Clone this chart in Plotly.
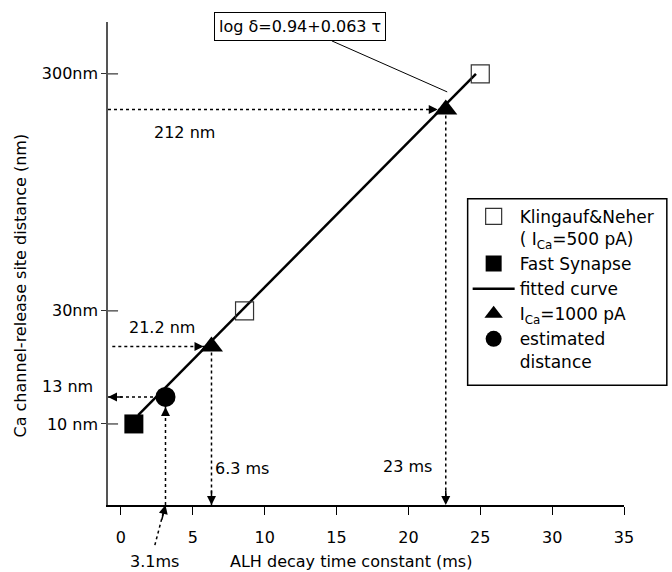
import math
import plotly.graph_objects as go

# ---- data ----
kn_x = [8.6, 25.0]          # Klingauf & Neher (open squares)
kn_y = [30, 300]
fs_x = [0.9]                # Fast synapse
fs_y = [10]
fit_x = [1.2, 24.7]         # fitted curve end points
fit_y = [10.9, 300]
ica_x = [6.3, 22.6]         # I_Ca = 1000 pA
ica_y = [21.2, 212]
est_x = [3.1]               # estimated distance
est_y = [13]

x_ticks = [0, 5, 10, 15, 20, 25, 30, 35]
y_ticks = [10, 30, 300]
y_ticktext = ["10 nm", "30nm", "300nm"]

X_RANGE = [-0.9, 35]
Y_RANGE = [0.658, 2.696]    # log10 range
FONT = "DejaVu Sans"

fig = go.Figure()

# inner part of the y ticks (ticks cross the axis)
tx, ty = [], []
for v in y_ticks:
    tx += [X_RANGE[0], X_RANGE[0] + 0.7, None]
    ty += [v, v, None]
fig.add_trace(go.Scatter(x=tx, y=ty, mode="lines", line=dict(color="#333", width=1.2),
                         showlegend=False, hoverinfo="skip"))

ybot = 10 ** Y_RANGE[0]
dot = dict(color="black", width=1.5, dash="dot")
# dotted guide lines
for xv, yv, x0 in [(ica_x[1], ica_y[1], X_RANGE[0]), (ica_x[0], ica_y[0], -0.6)]:
    fig.add_trace(go.Scatter(x=[x0, xv], y=[yv, yv], mode="lines", line=dot,
                             showlegend=False, hoverinfo="skip"))
    fig.add_trace(go.Scatter(x=[xv, xv], y=[yv, ybot], mode="lines", line=dot,
                             showlegend=False, hoverinfo="skip"))
fig.add_trace(go.Scatter(x=[X_RANGE[0], est_x[0]], y=[est_y[0], est_y[0]], mode="lines", line=dot,
                         showlegend=False, hoverinfo="skip"))
fig.add_trace(go.Scatter(x=[est_x[0], est_x[0]], y=[ybot, est_y[0]], mode="lines", line=dot,
                         showlegend=False, hoverinfo="skip"))

# fitted curve
fig.add_trace(go.Scatter(x=fit_x, y=fit_y, mode="lines", name="fitted curve",
                         line=dict(color="black", width=2.5), legendrank=3))
# markers
fig.add_trace(go.Scatter(x=kn_x, y=kn_y, mode="markers",
                         name="Klingauf&Neher<br>( I<sub>Ca</sub>=500 pA)",
                         marker=dict(symbol="square-open", size=18, color="#333",
                                     line=dict(width=1.2, color="#333")), legendrank=1))
fig.add_trace(go.Scatter(x=fs_x, y=fs_y, mode="markers", name="Fast Synapse",
                         marker=dict(symbol="square", size=19, color="black"), legendrank=2))
fig.add_trace(go.Scatter(x=ica_x, y=ica_y, mode="markers", name="I<sub>Ca</sub>=1000 pA",
                         marker=dict(symbol="triangle-up", size=20, color="black"), legendrank=4))
fig.add_trace(go.Scatter(x=est_x, y=est_y, mode="markers", name="estimated<br>distance",
                         marker=dict(symbol="circle", size=20, color="black"), legendrank=5))

L = math.log10
ann = []
arrow = dict(showarrow=True, arrowhead=2, arrowsize=1.2, arrowwidth=1.5, arrowcolor="black", text="")
# arrows to the triangles (from left)
for xv, yv in zip(ica_x, ica_y):
    ann.append(dict(x=xv, y=L(yv), ax=-16, ay=0, standoff=8, **arrow))
    ann.append(dict(x=xv, y=0, yref="paper", ax=0, ay=-16, **arrow))
# estimated distance arrows
ann.append(dict(x=0, xref="paper", y=L(est_y[0]), ax=16, ay=0, **arrow))
ann.append(dict(x=est_x[0], y=L(est_y[0]), ax=0, ay=18, standoff=10, **arrow))
ann.append(dict(x=est_x[0], y=0, yref="paper", ax=-4, ay=16, **arrow))

txt = dict(showarrow=False, font=dict(family=FONT, size=16, color="black"),
           xanchor="center", yanchor="middle")
def T(**kw):
    d = dict(txt)
    d.update(kw)
    return d

ann += [
    T(x=4.4, y=2.228, text="212 nm"),
    T(x=2.85, y=1.409, text="21.2 nm"),
    T(x=-0.025, xref="paper", xanchor="right", y=1.156, text="13 nm"),
    T(x=6.4, xanchor="left", y=0.81, text="6.3 ms"),
    T(x=21.8, xanchor="right", y=0.819, text="23 ms"),
    T(x=2.36, y=-0.118, yref="paper", text="3.1ms"),
    T(x=0.471, xref="paper", y=-0.118, yref="paper", text="ALH decay time constant (ms)"),
    T(x=-0.17, xref="paper", y=0.455, yref="paper", textangle=-90,
      text="Ca channel-release site distance (nm)"),
]
ann.append(dict(x=22.7, y=2.401, ax=-147, ay=-65, showarrow=True, arrowhead=0, arrowwidth=1,
                arrowcolor="black", text="log \u03b4=0.94+0.063 \u03c4",
                font=dict(family=FONT, size=16, color="black"),
                bordercolor="black", borderwidth=1, borderpad=4, bgcolor="white"))

shapes = [
    # diagonal dotted leader from "3.1ms" label to axis
    dict(type="line", xref="x", yref="paper", x0=2.36, y0=-0.083, x1=3.0, y1=-0.01,
         line=dict(color="black", width=1.5, dash="dot")),
    # legend frame
    dict(type="rect", xref="paper", yref="paper", x0=0.697, x1=1.083, y0=0.248, y1=0.634,
         line=dict(color="black", width=1.5), fillcolor="rgba(0,0,0,0)", layer="above"),
]

fig.update_layout(
    width=672, height=572,
    margin=dict(l=108, r=46, t=22, b=67),
    paper_bgcolor="white", plot_bgcolor="white",
    font=dict(family=FONT, size=16, color="black"),
    annotations=ann, shapes=shapes,
    legend=dict(x=0.697, y=0.634, xanchor="left", yanchor="top", bgcolor="rgba(0,0,0,0)",
                borderwidth=0, valign="top", itemwidth=42,
                font=dict(family=FONT, size=17, color="black")),
    xaxis=dict(range=X_RANGE, tickvals=x_ticks, ticks="outside", ticklen=8, tickcolor="black",
               showline=True, linecolor="black", linewidth=1.5, showgrid=False, zeroline=False,
               ticklabelstandoff=9, tickfont=dict(family=FONT, size=16)),
    yaxis=dict(type="log", range=Y_RANGE, tickvals=y_ticks, ticktext=y_ticktext, ticks="outside",
               ticklen=5, tickcolor="#333", showline=True, linecolor="#555", linewidth=1.5,
               showgrid=False, zeroline=False, tickfont=dict(family=FONT, size=16)),
)

fig.write_html("out.html")
